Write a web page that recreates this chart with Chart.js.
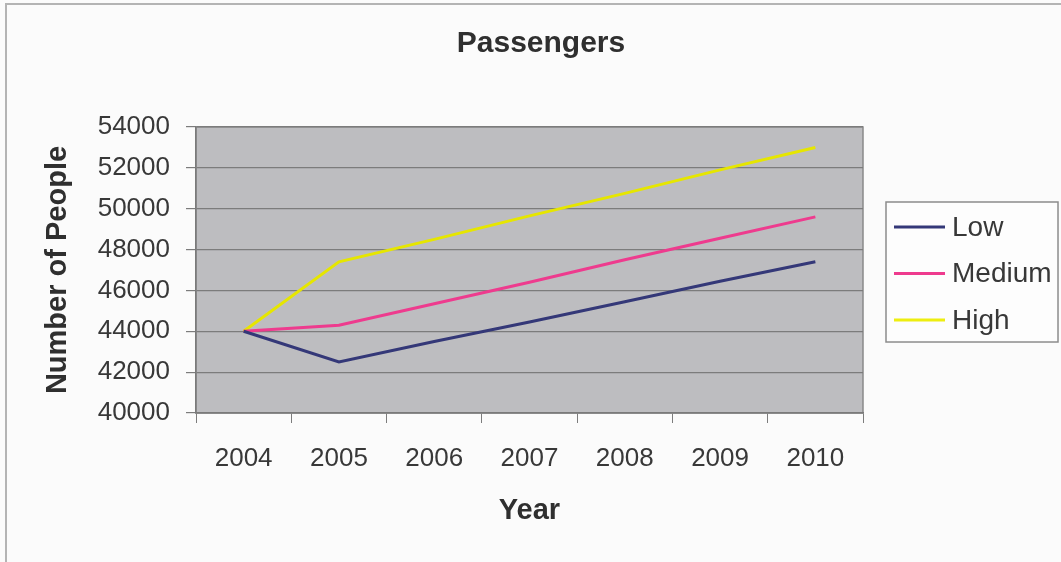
<!DOCTYPE html>
<html>
<head>
<meta charset="utf-8">
<title>Passengers</title>
<script src="https://cdn.jsdelivr.net/npm/chart.js@4.4.0/dist/chart.umd.min.js"></script>
<style>
    body { margin: 0; background: #fbfbfb; }
    #wrap { position: relative; width: 1061px; height: 562px; }
    #frame { position: absolute; left: 5px; top: 3px; right: -2px; bottom: -2px; border: 2px solid #b4b4b4; pointer-events: none; }
</style>
</head>
<body>
<div id="wrap">
    <canvas id="myChart"></canvas>
    <div id="frame"></div>
</div>
<script>
const years = ['2004', '2005', '2006', '2007', '2008', '2009', '2010'];
const lowValues = [44000, 42500, 43500, 44450, 45450, 46450, 47400];
const mediumValues = [44000, 44300, 45350, 46400, 47500, 48550, 49600];
const highValues = [44000, 47400, 48500, 49650, 50750, 51900, 53000];
const yTicks = [40000, 42000, 44000, 46000, 48000, 50000, 52000, 54000];

const fontName = "'Liberation Sans', Arial, sans-serif";
const textColor = '#383838';
const gridColor = '#7c7c7c';

// grey plot panel behind the grid lines
const plotPanel = {
    id: 'plotPanel',
    beforeDraw: function(chart) {
        const a = chart.chartArea;
        const ctx = chart.ctx;
        ctx.save();
        ctx.fillStyle = '#bdbdc0';
        ctx.fillRect(a.left, a.top, a.right - a.left, a.bottom - a.top);
        ctx.strokeStyle = '#8a8a8a';
        ctx.lineWidth = 1.5;
        ctx.strokeRect(a.left, a.top, a.right - a.left, a.bottom - a.top);
        ctx.restore();
    }
};

// chart title and boxed legend on the right
const titleAndLegend = {
    id: 'titleAndLegend',
    afterDraw: function(chart) {
        const ctx = chart.ctx;
        ctx.save();
        ctx.fillStyle = '#2f2f2f';
        ctx.font = 'bold 30px ' + fontName;
        ctx.textAlign = 'center';
        ctx.textBaseline = 'middle';
        ctx.fillText('Passengers', 541, 44);

        ctx.fillStyle = '#fdfdfd';
        ctx.fillRect(886, 202, 172, 140);
        ctx.strokeStyle = '#8c8c8c';
        ctx.lineWidth = 1.5;
        ctx.strokeRect(886, 202, 172, 140);

        ctx.font = '28px ' + fontName;
        ctx.textAlign = 'left';
        chart.data.datasets.forEach(function(ds, i) {
            const y = 227 + i * 46.5;
            ctx.strokeStyle = ds.legendColor;
            ctx.lineWidth = 3;
            ctx.beginPath();
            ctx.moveTo(894, y);
            ctx.lineTo(945, y);
            ctx.stroke();
            ctx.fillStyle = textColor;
            ctx.fillText(ds.label, 952, y + 1);
        });
        ctx.restore();
    }
};

const ctx = document.getElementById('myChart').getContext('2d');
const myChart = new Chart(ctx, {
    type: 'line',
    data: {
        labels: years,
        datasets: [{
            label: 'Low',
            data: lowValues,
            borderColor: '#343878',
            legendColor: '#343878',
            borderWidth: 3
        }, {
            label: 'Medium',
            data: mediumValues,
            borderColor: '#ee3b8e',
            legendColor: '#ee3b8e',
            borderWidth: 3
        }, {
            label: 'High',
            data: highValues,
            borderColor: '#e6e600',
            legendColor: '#eeee10',
            borderWidth: 3
        }]
    },
    options: {
        responsive: true,
        maintainAspectRatio: false,
        animation: false,
        layout: {
            padding: { left: 20, top: 127, right: 198, bottom: 0 }
        },
        elements: {
            line: { tension: 0 },
            point: { radius: 0 }
        },
        plugins: {
            legend: { display: false },
            title: { display: false },
            tooltip: { enabled: false }
        },
        scales: {
            x: {
                offset: true,
                afterFit: function(scale) { scale.height = 149; },
                grid: {
                    offset: true,
                    drawOnChartArea: false,
                    drawTicks: true,
                    tickLength: 10,
                    color: gridColor
                },
                border: { display: true, color: '#7a7a7a', width: 1.5 },
                ticks: {
                    padding: 20,
                    color: textColor,
                    font: { family: fontName, size: 26 }
                },
                title: {
                    display: true,
                    text: 'Year',
                    color: '#2f2f2f',
                    font: { family: fontName, size: 29, weight: 'bold' },
                    padding: { top: 0, bottom: 34 }
                }
            },
            y: {
                min: 40000,
                max: 54000,
                afterFit: function(scale) { scale.width = 176; },
                afterBuildTicks: function(scale) {
                    scale.ticks = yTicks.map(function(v) { return { value: v }; });
                },
                grid: {
                    color: gridColor,
                    lineWidth: 1.2,
                    drawTicks: true,
                    tickLength: 10
                },
                border: { display: true, color: '#7a7a7a', width: 1.5 },
                ticks: {
                    padding: 16,
                    color: textColor,
                    font: { family: fontName, size: 26 },
                    callback: function(value) { return String(value); }
                },
                title: {
                    display: true,
                    text: 'Number of People',
                    color: '#2f2f2f',
                    font: { family: fontName, size: 29, weight: 'bold' },
                    padding: { top: 21, bottom: 0 }
                }
            }
        }
    },
    plugins: [plotPanel, titleAndLegend]
});
</script>
</body>
</html>
